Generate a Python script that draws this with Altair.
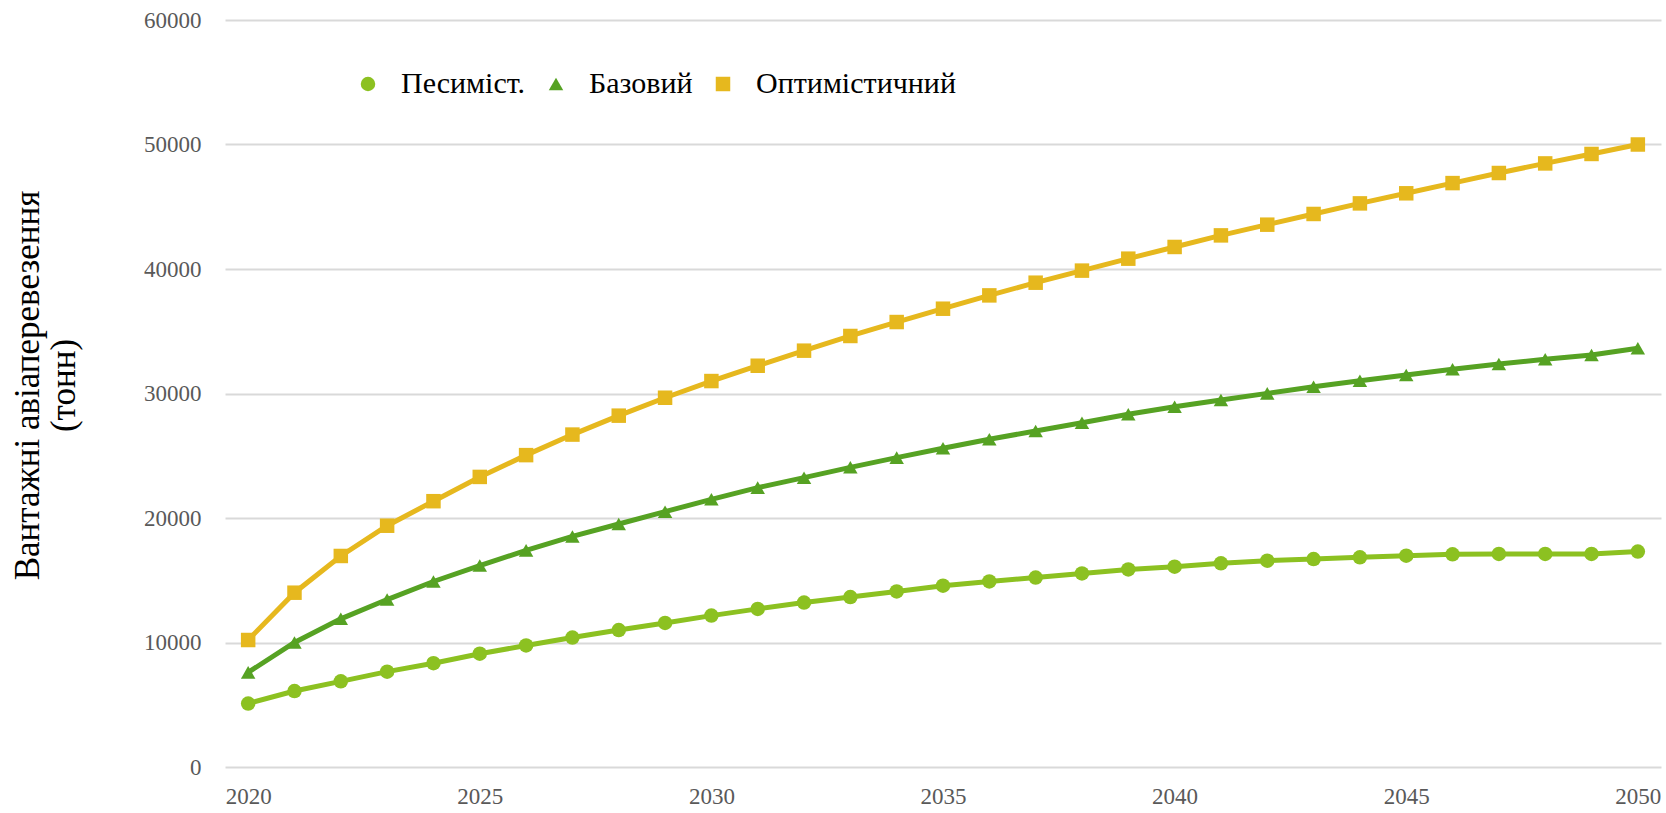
import altair as alt
import pandas as pd

years = list(range(2020, 2051))
pess = [5100, 6100, 6880, 7660, 8340, 9100, 9760, 10400, 11000, 11570, 12160,
        12700, 13210, 13650, 14100, 14560, 14900, 15220, 15550, 15870, 16090,
        16360, 16570, 16700, 16840, 16970, 17080, 17110, 17110, 17110, 17300]
base = [7600, 10000, 11900, 13450, 14900, 16180, 17400, 18520, 19520, 20510, 21500,
        22440, 23240, 24070, 24850, 25600, 26320, 26990, 27650, 28330, 28940,
        29480, 30010, 30550, 31030, 31490, 31940, 32370, 32750, 33090, 33630]
opt = [10200, 14000, 16950, 19380, 21350, 23300, 25050, 26700, 28220, 29660, 31000,
       32230, 33440, 34620, 35740, 36810, 37880, 38900, 39870, 40830, 41770,
       42700, 43560, 44420, 45270, 46080, 46900, 47710, 48480, 49240, 50000]

series_names = ["Песиміст.", "Базовий", "Оптимістичний"]
colors = ["#8CC121", "#56A223", "#E6B81E"]
shapes = ["circle", "triangle-up", "square"]
x_ticks = [2020, 2025, 2030, 2035, 2040, 2045, 2050]
y_ticks = [0, 10000, 20000, 30000, 40000, 50000, 60000]
y_title = ["Вантажні авіаперевезення", "(тонн)"]

rows = []
for name, vals in zip(series_names, [pess, base, opt]):
    for yr, v in zip(years, vals):
        rows.append({"year": yr, "value": v, "series": name})
df = pd.DataFrame(rows)

legend = alt.Legend(
    title=None, orient="none", legendX=128, legendY=49, direction="horizontal",
    labelFont="Liberation Serif", labelFontSize=30, labelColor="#000000",
    labelLimit=0, symbolSize=210, labelOffset=18, columnPadding=15,
    symbolStrokeWidth=0,
)

x = alt.X("year:Q",
          scale=alt.Scale(domain=[2019.5, 2050.5], nice=False, zero=False),
          axis=alt.Axis(values=x_ticks, format="d", grid=False, domain=False,
                        ticks=False, labelPadding=18, title=None))
y = alt.Y("value:Q",
          scale=alt.Scale(domain=[0, 60000], nice=False),
          axis=alt.Axis(values=y_ticks, format="d", grid=True, gridColor="#D9D9D9",
                        gridWidth=2, domain=False, ticks=False, labelPadding=24,
                        title=y_title, titleAngle=270, titleX=-215, titleY=365,
                        titleAlign="center", titleBaseline="top",
                        titleLineHeight=36, titleFont="Liberation Serif",
                        titleFontSize=35, titleFontWeight="normal",
                        titleColor="#000000"))
color = alt.Color("series:N", scale=alt.Scale(domain=series_names, range=colors),
                  legend=legend)
shape = alt.Shape("series:N", scale=alt.Scale(domain=series_names, range=shapes),
                  legend=legend)

lines = alt.Chart(df).mark_line(strokeWidth=5).encode(
    x=x, y=y, color=color, detail="series:N")
points = alt.Chart(df).mark_point(filled=True, size=210, opacity=1).encode(
    x=x, y=y, color=color, shape=shape)

chart = alt.layer(lines, points).properties(
    width=1436, height=747,
    autosize=alt.AutoSizeParams(type="none"),
    padding={"left": 225, "top": 20, "right": 5, "bottom": 46},
).configure_view(stroke=None).configure_axis(
    labelFont="Liberation Serif", labelFontSize=23, labelColor="#595959"
)

chart.save("out.html", embed_options={"renderer": "svg", "actions": False})
